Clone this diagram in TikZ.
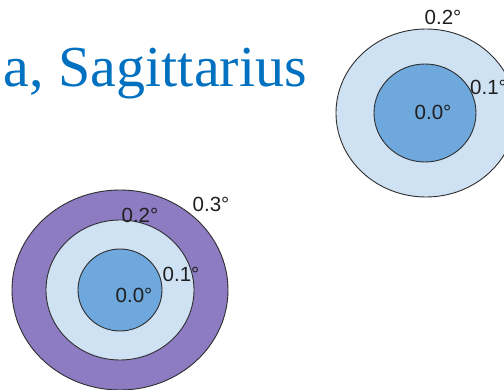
\documentclass[tikz,border=0pt]{standalone}
\usepackage{fontspec}
\setmainfont{Liberation Serif}
\newfontfamily\labelfont{Liberation Sans}
\usetikzlibrary{positioning}
\definecolor{titleblue}{HTML}{0070C0}
\definecolor{ringlight}{HTML}{CFE2F3}
\definecolor{ringmid}{HTML}{6FA8DC}
\definecolor{ringpurple}{HTML}{8E7CC3}
\definecolor{edgegray}{HTML}{2E2E2E}
\tikzset{
  ring/.style={draw=edgegray, line width=0.9pt},
  lightring/.style={ring, fill=ringlight},
  midring/.style={ring, fill=ringmid},
  purplering/.style={ring, fill=ringpurple},
  deglabel/.style={anchor=base, inner sep=0pt, text=black!88,
    font=\labelfont\fontsize{20.5}{22}\selectfont},
  titletext/.style={anchor=base east, inner sep=0pt, text=titleblue,
    font=\fontsize{58}{60}\selectfont}
}

\begin{document}
\begin{tikzpicture}[x=1pt, y=-1pt]
    \useasboundingbox (0,0) rectangle (504,390);
    \fill[white] (0,0) rectangle (504,390);
    \clip (0,0) rectangle (504,390);
    % title
    \node[titletext] (title) at (307,87) {a, Sagittarius};
    % upper right rings
    \draw[lightring] (426,113) ellipse [x radius=90, y radius=84];
    \draw[midring] (425,113) ellipse [x radius=51, y radius=49];
    \node[deglabel] (ur2) at (443,25) {0.2°};
    \node[deglabel, anchor=base west] (ur1) at (470,95) {0.1°};
    \node[deglabel] (ur0) at (433,120) {0.0°};
    % lower left rings
    \draw[purplering] (120,290) ellipse [x radius=108, y radius=100];
    \draw[lightring] (120,290) ellipse [x radius=74, y radius=70];
    \draw[midring] (120,290) ellipse [x radius=42, y radius=41];
    \node[deglabel] (ll3) at (211,212) {0.3°};
    \node[deglabel] (ll2) at (140,223) {0.2°};
    \node[deglabel] (ll1) at (181,282) {0.1°};
    \node[deglabel] (ll0) at (134,303) {0.0°};
  \end{tikzpicture}
\end{document}
